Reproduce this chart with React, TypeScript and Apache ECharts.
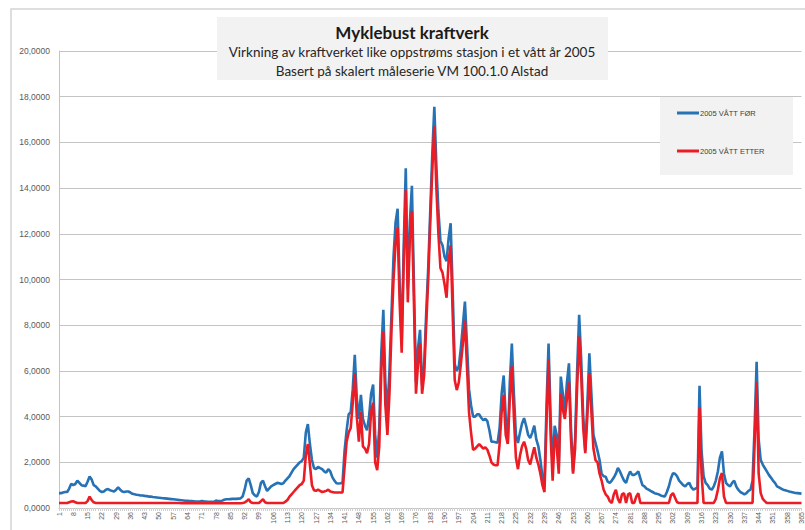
import React, { useEffect, useRef } from "react";
import * as echarts from "echarts";

// Day numbers of the year, 1..365
const days: string[] = Array.from({ length: 365 }, (_, i) => String(i + 1));

const seriesNames = ["2005 VÅTT FØR", "2005 VÅTT ETTER"];

// Daily flow before the power plant (2005, wet year)
const vattFor: number[] = [
  0.65, 0.65, 0.68, 0.70, 0.70, 0.85, 1.06, 1.00, 1.05, 1.20,
  1.10, 1.00, 0.98, 0.95, 1.15, 1.38, 1.25, 1.00, 0.95, 0.85,
  0.75, 0.70, 0.72, 0.80, 0.83, 0.78, 0.75, 0.72, 0.80, 0.90,
  0.80, 0.72, 0.70, 0.72, 0.72, 0.68, 0.62, 0.60, 0.58, 0.57,
  0.55, 0.55, 0.53, 0.52, 0.50, 0.50, 0.48, 0.47, 0.46, 0.45,
  0.44, 0.43, 0.42, 0.41, 0.40, 0.39, 0.38, 0.37, 0.36, 0.35,
  0.34, 0.33, 0.32, 0.31, 0.30, 0.30, 0.29, 0.28, 0.28, 0.28,
  0.31, 0.29, 0.28, 0.27, 0.27, 0.27, 0.27, 0.33, 0.30, 0.30,
  0.32, 0.36, 0.38, 0.38, 0.39, 0.40, 0.40, 0.40, 0.41, 0.42,
  0.50, 0.80, 1.20, 1.30, 1.00, 0.65, 0.55, 0.50, 0.70, 1.10,
  1.20, 0.95, 0.75, 0.85, 0.95, 1.00, 1.05, 1.10, 1.08, 1.05,
  1.08, 1.20, 1.30, 1.40, 1.55, 1.70, 1.80, 1.90, 2.00, 2.05,
  2.20, 3.30, 3.67, 2.80, 2.10, 1.75, 1.70, 1.80, 1.75, 1.70,
  1.60, 1.55, 1.70, 1.60, 1.35, 1.20, 1.08, 1.07, 1.08, 1.10,
  2.50, 3.40, 4.10, 4.20, 5.20, 6.70, 4.80, 3.90, 4.95, 3.90,
  3.60, 3.40, 4.00, 5.00, 5.40, 3.20, 2.20, 3.50, 6.80, 8.67,
  5.50, 4.20, 6.00, 8.50, 11.00, 12.50, 13.10, 9.80, 7.30, 11.50,
  14.87, 9.60, 12.50, 14.10, 9.80, 5.50, 7.00, 7.80, 5.40, 6.20,
  8.50, 10.50, 13.00, 15.50, 17.56, 15.00, 13.00, 11.70, 11.50, 11.00,
  10.80, 11.80, 12.46, 9.50, 6.30, 6.00, 6.20, 7.00, 8.00, 9.03,
  7.20, 5.20, 4.50, 4.00, 4.00, 4.10, 4.10, 3.95, 3.85, 3.90,
  3.80, 3.40, 2.90, 2.90, 2.88, 2.85, 3.50, 5.00, 5.80, 4.00,
  2.85, 5.50, 7.20, 5.00, 3.20, 2.85, 3.30, 3.70, 3.93, 3.60,
  3.20, 3.06, 3.30, 3.60, 3.00, 2.70, 2.10, 1.37, 1.00, 4.50,
  7.20, 4.00, 1.80, 3.60, 3.20, 1.80, 5.75, 5.00, 4.20, 5.50,
  6.33, 3.50, 1.60, 3.00, 6.00, 8.45, 6.50, 4.00, 2.50, 4.50,
  6.77, 5.00, 3.20, 2.85, 2.50, 2.10, 1.50, 1.39, 1.37, 1.15,
  1.10, 1.20, 1.33, 1.50, 1.75, 1.60, 1.39, 1.20, 1.10, 1.40,
  1.60, 1.45, 1.45, 1.50, 1.60, 1.30, 1.00, 0.95, 0.85, 0.80,
  0.75, 0.70, 0.65, 0.62, 0.60, 0.55, 0.52, 0.50, 0.70, 0.95,
  1.30, 1.52, 1.50, 1.39, 1.20, 1.10, 1.00, 0.95, 1.05, 1.10,
  0.90, 0.80, 0.85, 0.88, 5.35, 2.50, 1.40, 1.10, 1.00, 0.85,
  0.80, 0.95, 1.20, 1.60, 2.20, 2.48, 1.50, 1.10, 1.00, 0.95,
  1.10, 1.20, 0.95, 0.80, 0.70, 0.65, 0.60, 0.65, 0.75, 0.80,
  1.20, 3.50, 6.40, 3.00, 2.10, 1.90, 1.75, 1.60, 1.45, 1.33,
  1.20, 1.10, 0.95, 0.90, 0.85, 0.80, 0.78, 0.75, 0.72, 0.70,
  0.68, 0.66, 0.65, 0.64, 0.63,
];

// Daily flow after the power plant (2005, wet year)
const vattEtter: number[] = [
  0.22, 0.22, 0.22, 0.22, 0.22, 0.25, 0.28, 0.30, 0.25, 0.22,
  0.22, 0.22, 0.22, 0.22, 0.30, 0.50, 0.35, 0.25, 0.22, 0.22,
  0.22, 0.22, 0.22, 0.22, 0.22, 0.22, 0.22, 0.22, 0.22, 0.22,
  0.22, 0.22, 0.22, 0.22, 0.22, 0.22, 0.22, 0.22, 0.22, 0.22,
  0.22, 0.22, 0.22, 0.22, 0.22, 0.22, 0.22, 0.22, 0.22, 0.22,
  0.22, 0.22, 0.22, 0.22, 0.22, 0.22, 0.22, 0.22, 0.22, 0.22,
  0.21, 0.21, 0.21, 0.21, 0.21, 0.21, 0.21, 0.21, 0.21, 0.21,
  0.21, 0.21, 0.21, 0.21, 0.21, 0.21, 0.21, 0.21, 0.21, 0.21,
  0.21, 0.21, 0.21, 0.21, 0.21, 0.21, 0.21, 0.21, 0.21, 0.21,
  0.22, 0.24, 0.30, 0.38, 0.25, 0.22, 0.22, 0.22, 0.22, 0.30,
  0.38, 0.25, 0.22, 0.22, 0.22, 0.22, 0.22, 0.22, 0.22, 0.22,
  0.22, 0.28, 0.35, 0.50, 0.60, 0.70, 0.80, 0.90, 1.00, 1.05,
  1.20, 2.30, 2.80, 1.90, 1.00, 0.78, 0.75, 0.80, 0.75, 0.70,
  0.72, 0.75, 0.80, 0.72, 0.70, 0.68, 0.68, 0.68, 0.68, 0.68,
  1.80, 2.90, 3.30, 3.50, 4.60, 5.90, 4.00, 2.90, 4.20, 2.70,
  2.60, 2.40, 2.80, 4.20, 4.60, 2.00, 1.66, 2.70, 6.00, 7.70,
  4.50, 3.20, 5.00, 7.80, 10.00, 11.60, 12.30, 9.00, 6.80, 10.80,
  13.90, 9.00, 11.80, 13.00, 9.00, 5.00, 6.30, 7.20, 5.00, 5.80,
  8.00, 10.00, 12.50, 14.80, 16.70, 14.00, 12.00, 10.50, 10.30, 9.80,
  9.20, 10.80, 11.50, 8.50, 5.60, 5.16, 5.50, 6.30, 7.20, 8.20,
  6.20, 4.20, 3.30, 2.54, 2.60, 2.70, 2.80, 2.70, 2.60, 2.66,
  2.55, 2.30, 2.00, 1.90, 1.87, 1.87, 2.80, 4.20, 4.95, 3.20,
  2.80, 4.80, 6.20, 4.00, 2.20, 1.70, 2.30, 2.70, 2.90, 2.60,
  2.10, 1.90, 2.30, 2.66, 2.20, 1.90, 1.50, 1.00, 0.70, 3.80,
  6.50, 3.20, 1.20, 3.20, 2.70, 1.50, 5.00, 4.30, 3.90, 4.80,
  5.50, 3.00, 1.50, 2.60, 5.30, 7.50, 5.80, 3.50, 2.40, 4.00,
  5.90, 4.20, 2.60, 2.10, 2.00, 1.50, 1.20, 0.80, 0.60, 0.50,
  0.30, 0.22, 0.60, 0.80, 0.40, 0.22, 0.60, 0.65, 0.22, 0.60,
  0.65, 0.22, 0.22, 0.50, 0.65, 0.22, 0.22, 0.22, 0.22, 0.22,
  0.22, 0.22, 0.22, 0.22, 0.22, 0.22, 0.22, 0.22, 0.22, 0.22,
  0.55, 0.65, 0.45, 0.25, 0.22, 0.22, 0.22, 0.22, 0.22, 0.22,
  0.22, 0.22, 0.22, 0.22, 4.40, 1.50, 0.22, 0.22, 0.22, 0.22,
  0.22, 0.22, 0.40, 0.80, 1.30, 1.53, 0.50, 0.22, 0.22, 0.22,
  0.22, 0.22, 0.22, 0.22, 0.22, 0.22, 0.22, 0.22, 0.22, 0.22,
  0.22, 2.80, 5.50, 1.50, 0.65, 0.40, 0.30, 0.22, 0.22, 0.22,
  0.22, 0.22, 0.22, 0.22, 0.22, 0.22, 0.22, 0.22, 0.22, 0.22,
  0.22, 0.22, 0.22, 0.22, 0.22,
];

const BLUE = "#2672b4";
const RED = "#ec1c24";
const GRID_GRAY = "#c4c4c4";
const LABEL_GRAY = "#595959";

export default function App() {
  const ref = useRef<HTMLDivElement>(null);

  useEffect(() => {
    if (!ref.current) return;
    const chart = echarts.init(ref.current, undefined, { renderer: "svg" });

    chart.setOption({
      animation: false,
      backgroundColor: "#ffffff",
      textStyle: { fontFamily: "Lato, 'Open Sans', sans-serif" },
      title: {
        text: "Myklebust kraftverk",
        subtext:
          "Virkning av kraftverket like oppstrøms stasjon i et vått år 2005\nBasert på skalert måleserie VM 100.1.0 Alstad",
        left: 412,
        top: 22,
        textAlign: "center",
        itemGap: 0,
        padding: 0,
        z: 8,
        textStyle: {
          fontFamily: "Lato, sans-serif",
          fontSize: 17,
          fontWeight: "bold",
          color: "#1a1a1a",
          lineHeight: 20,
        },
        subtextStyle: {
          fontFamily: "Lato, sans-serif",
          fontSize: 13.5,
          color: "#262626",
          lineHeight: 19,
        },
      },
      graphic: [
        {
          type: "rect",
          z: -10,
          silent: true,
          shape: { x: 11, y: 9, width: 900, height: 600 },
          style: { fill: "none", stroke: "#d4d4d4", lineWidth: 1.5 },
        },
        {
          type: "rect",
          z: 5,
          silent: true,
          shape: { x: 217, y: 17, width: 391, height: 63 },
          style: { fill: "#f2f2f2" },
        },
        {
          type: "rect",
          z: 5,
          silent: true,
          shape: { x: 660, y: 97, width: 133, height: 78 },
          style: { fill: "#f2f2f2" },
        },
      ],
      legend: {
        data: seriesNames,
        orient: "vertical",
        left: 677,
        top: 109,
        padding: 0,
        itemGap: 30,
        itemWidth: 22,
        itemHeight: 3,
        icon: "rect",
        z: 8,
        textStyle: {
          fontFamily: "'Liberation Sans Narrow', 'Liberation Sans', sans-serif",
          fontSize: 7.5,
          color: "#404040",
          padding: [0, 0, 0, -4],
        },
      },
      // The day axis runs a little past the right edge of the canvas
      grid: { left: 59, top: 51, width: 751, bottom: 22, containLabel: false },
      xAxis: {
        type: "category",
        data: days,
        boundaryGap: false,
        axisLine: { show: true, lineStyle: { color: GRID_GRAY, width: 1 } },
        axisTick: { show: true, interval: 0, length: 3, lineStyle: { color: "#d0d0d0" } },
        axisLabel: {
          interval: 6,
          rotate: 90,
          fontSize: 7,
          color: LABEL_GRAY,
          margin: 4,
          fontFamily: "'Liberation Sans', sans-serif",
        },
        splitLine: { show: false },
      },
      yAxis: {
        type: "value",
        min: 0,
        max: 20,
        interval: 2,
        axisLine: { show: true, lineStyle: { color: GRID_GRAY, width: 1 } },
        axisTick: { show: false },
        axisLabel: {
          fontSize: 8.5,
          color: LABEL_GRAY,
          margin: 9,
          fontFamily: "'Liberation Sans', sans-serif",
          formatter: (v: number) => v.toFixed(4).replace(".", ","),
        },
        splitLine: { show: true, lineStyle: { color: GRID_GRAY, width: 1 } },
      },
      series: [
        {
          name: seriesNames[0],
          type: "line",
          data: vattFor,
          showSymbol: false,
          symbol: "none",
          z: 2,
          lineStyle: { color: BLUE, width: 2.6 },
          itemStyle: { color: BLUE },
        },
        {
          name: seriesNames[1],
          type: "line",
          data: vattEtter,
          showSymbol: false,
          symbol: "none",
          z: 3,
          lineStyle: { color: RED, width: 2.6 },
          itemStyle: { color: RED },
        },
      ],
    });

    return () => chart.dispose();
  }, []);

  return (
    <div
      ref={ref}
      style={{ position: "fixed", left: 0, top: 0, width: 805, height: 530 }}
    />
  );
}
